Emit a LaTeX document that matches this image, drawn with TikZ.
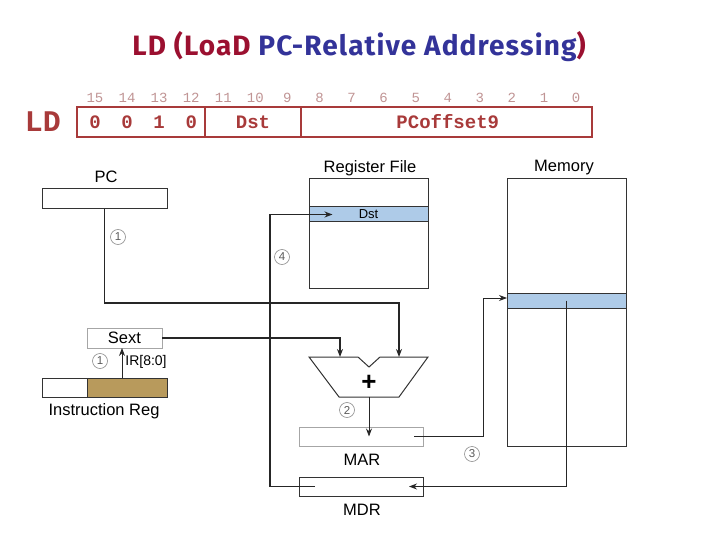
\documentclass[tikz,border=0pt]{standalone}
\usepackage{fontspec}
\setmainfont{Liberation Sans}
\newfontfamily\titlefont[LetterSpace=4]{Fira Sans}
\newfontfamily\codefont{Liberation Mono}
\usetikzlibrary{arrows.meta}
\definecolor{ldred}{HTML}{9B1030}
\definecolor{ldblue}{HTML}{333399}
\definecolor{fmtred}{HTML}{A83A3A}
\definecolor{bitgray}{HTML}{C09494}
\definecolor{rowblue}{HTML}{AECBE8}
\definecolor{irtan}{HTML}{B89A5C}
\tikzset{
  reg/.style={draw=black!80, line width=1pt, inner sep=0pt, outer sep=0pt},
  pale/.style={draw=black!35, line width=0.8pt, inner sep=0pt, outer sep=0pt, fill=white},
  lbl/.style={font=\fontsize{16.5}{18}\selectfont, inner sep=0pt},
  bitnum/.style={font=\codefont\fontsize{14}{14}\selectfont, text=bitgray, inner sep=0pt},
  field/.style={font=\codefont\bfseries\fontsize{19}{19}\selectfont, text=fmtred, inner sep=0pt},
  circnum/.style={circle, draw=black!45, line width=0.6pt, inner sep=0pt, minimum size=15pt,
    font=\fontsize{11.5}{11.5}\selectfont, text=black!65},
  wire/.style={draw=black!85, line width=1.3pt},
  arr/.style={wire, -{Stealth[length=8pt,width=6pt]}}
}
\begin{document}
\begin{tikzpicture}[x=1pt,y=-1pt]
  \useasboundingbox (0,0) rectangle (720,540);
  % title
  \node[font=\titlefont\bfseries\fontsize{28}{30}\selectfont, anchor=base, inner sep=0pt] (title) at (359,56)
    {\textcolor{ldred}{LD (LoaD} \textcolor{ldblue}{PC-Relative Addressing}\textcolor{ldred}{)}};
  % instruction format
  \node[font=\codefont\bfseries\fontsize{30}{30}\selectfont, text=fmtred, inner sep=0pt] (ldop) at (43,122) {LD};
  \node[draw=fmtred, line width=1.2pt, minimum width=515pt, minimum height=30pt, inner sep=0pt] (fmt) at (334.5,122) {};
  \draw[fmtred, line width=1.2pt] (205,107) -- (205,137) (301,107) -- (301,137);
  \foreach \b in {0,...,15}
    \node[bitnum] (b\b) at ({95+(15-\b)*32.07},98) {\b};
  \foreach \v/\b in {0/15,0/14,1/13,0/12}
    \node[field] (opc\b) at (b\b |- fmt) {\v};
  \node[field] (dstf) at (253,122) {Dst};
  \node[field] (offf) at (b4 |- fmt) {PCoffset9};
  % datapath
  \node[reg, minimum width=125pt, minimum height=20pt] (pc) at (104.5,199) {};
  \node[lbl] (pclbl) at (106,177) {PC};
  \node[reg, minimum width=119pt, minimum height=109pt] (regfile) at (368.5,233.5) {};
  \node[reg, fill=rowblue, minimum width=119pt, minimum height=15pt, font=\fontsize{13}{13}\selectfont] (dst) at (368.5,214.5) {Dst};
  \node[lbl] (rflbl) at (370,168) {Register File};
  \node[reg, minimum width=119pt, minimum height=267pt] (mem) at (566.5,312.5) {};
  \node[reg, fill=rowblue, minimum width=119pt, minimum height=15pt] (memrow) at (566.5,300.5) {};
  \node[lbl] (memlbl) at (564,168) {Memory};
  \node[pale, minimum width=75pt, minimum height=20pt, font=\fontsize{16.5}{18}\selectfont] (sext) at (124.5,338) {Sext};
  \node[reg, fill=white, minimum width=125pt, minimum height=19pt] (ir) at (104.5,387.5) {};
  \node[reg, fill=irtan, minimum width=80pt, minimum height=19pt] (irf) at (127,387.5) {};
  \node[lbl] (irlbl) at (104,411) {Instruction Reg};
  \node[pale, minimum width=124pt, minimum height=19pt] (mar) at (361,436.5) {};
  \node[lbl] (marlbl) at (362,460) {MAR};
  \node[reg, minimum width=124pt, minimum height=19pt] (mdr) at (361,486.5) {};
  \node[lbl] (mdrlbl) at (362,510) {MDR};
  % adder
  \draw[reg, fill=white] (309,357) -- (358,357) -- (369,367) -- (380,357) -- (428,357)
    -- (399,397) -- (339,397) -- cycle;
  \node[font=\bfseries\fontsize{26}{26}\selectfont, inner sep=0pt] (plus) at (369,383) {+};
  \coordinate (addA) at (340,357);
  \coordinate (addB) at (399,357);
  \coordinate (addO) at (369,397);
  % steps
  \node[circnum] (s1a) at (118,237) {1};
  \node[circnum] (s1b) at (100,361) {1};
  \node[circnum] (s2) at (347,410) {2};
  \node[circnum] (s3) at (472,454) {3};
  \node[circnum] (s4) at (282,257) {4};
  \node[font=\fontsize{14}{14}\selectfont, inner sep=0pt] (irbits) at (146,362) {IR[8:0]};
  \begin{scope}[arr]
    \draw (pc.south) -- ++(0,94) -| (addB);
    \draw (sext.east) -| (addA);
    \draw[line width=1pt] ([xshift=-5pt]irf.north) -- ([xshift=-2.5pt]sext.south);
    \draw[line width=0.9pt] (addO) -- (addO |- mar.center);
    \draw[line width=0.9pt] ([xshift=53pt]mar.center) -- ++(69,0) |- ([yshift=2.5pt]memrow.west);
    \draw (memrow.center) |- ([xshift=48pt]mdr.center);
    \draw ([xshift=-46pt]mdr.center) -- ++(-45,0) |- ([xshift=-36pt]dst.center);
  \end{scope}
\end{tikzpicture}
\end{document}
